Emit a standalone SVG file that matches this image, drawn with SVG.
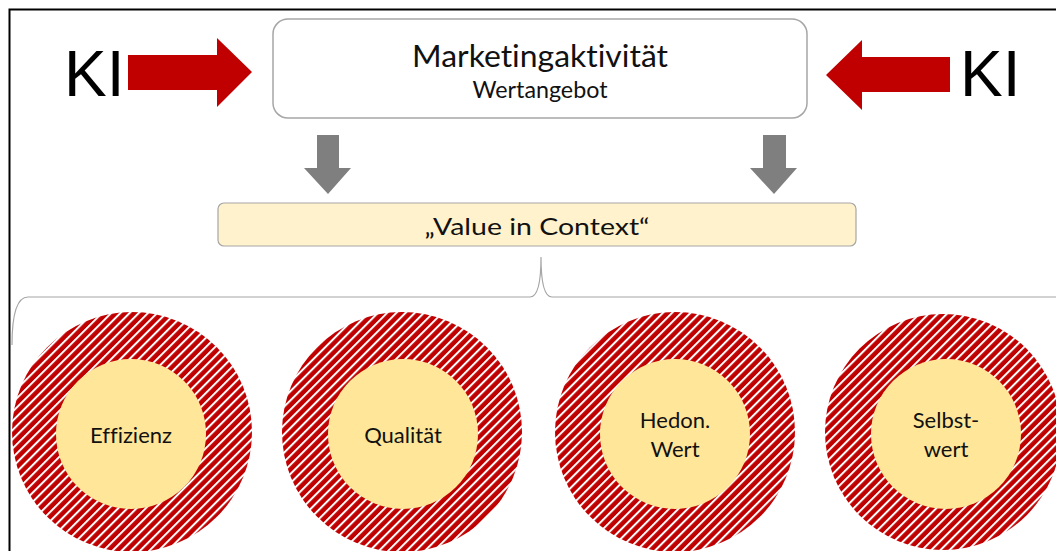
<svg xmlns="http://www.w3.org/2000/svg" width="1056" height="551" viewBox="0 0 1056 551">
  <defs>
    <pattern id="stripes" patternUnits="userSpaceOnUse" width="6.5" height="6.5" patternTransform="rotate(45)">
      <rect width="6.5" height="6.5" fill="#c00000"/>
      <rect x="0" y="0" width="2" height="6.5" fill="#ffffff"/>
    </pattern>
    <style>
      .box { fill: #ffffff; stroke: #a6a6a6; stroke-width: 1.5; }
      .ctx { fill: #fff2cc; stroke: #a6a6a6; stroke-width: 1.2; }
      .ki { font-family: "Liberation Sans", Arial, sans-serif; font-size: 64px; fill: #000; }
      .lbl { font-family: Lato, "Open Sans", sans-serif; fill: #111; text-anchor: middle; font-variant-ligatures: none; }
      .c { font-size: 22px; }
      .red { fill: #c00000; }
      .gray { fill: #7f7f7f; }
      .outer { fill: url(#stripes); }
      .inner { fill: #ffe699; }
      .brace { fill: none; stroke: #a6a6a6; stroke-width: 1.2; }
    </style>
  </defs>
  <rect width="1056" height="551" fill="#ffffff"/>
  <rect x="9.5" y="9.5" width="1060" height="560" fill="none" stroke="#000" stroke-width="2"/>

  <g id="ki-left">
    <text class="ki" x="64" y="96">KI</text>
  </g>
  <g id="ki-right">
    <text class="ki" x="960" y="96">KI</text>
  </g>

  <g id="marketing">
    <rect class="box" x="273" y="19" width="534" height="99" rx="15"/>
    <text class="lbl" x="540" y="67" font-size="31" textLength="256" lengthAdjust="spacingAndGlyphs">Marketingaktivität</text>
    <text class="lbl" x="540" y="98" font-size="23" textLength="135" lengthAdjust="spacingAndGlyphs">Wertangebot</text>
  </g>

  <g id="context">
    <rect class="ctx" x="218" y="203" width="638" height="43" rx="6"/>
    <text class="lbl" x="537" y="235" font-size="24" textLength="225" lengthAdjust="spacingAndGlyphs">„Value in Context“</text>
  </g>

  <g id="connectors">
    <polygon class="red" points="128,55 217,55 217,38 252,72 217,107 217,90 128,90"/>
    <polygon class="red" points="950,57 862,57 862,40 826,75 862,110 862,92 950,92"/>
    <polygon class="gray" points="317,135 339,135 339,168 351,168 328,194 304,168 317,168"/>
    <polygon class="gray" points="763,135 786,135 786,168 797,168 774,194 750,168 763,168"/>
    <path class="brace" d="M 12 345 Q 12 297 28 297 L 530 297 Q 541 297 541 257 Q 541 297 552 297 L 1060 297"/>
  </g>

  <g id="effizienz">
    <circle class="outer" cx="132" cy="432" r="120"/>
    <circle class="inner" cx="131" cy="434" r="75"/>
    <text class="lbl c" x="131" y="443">Effizienz</text>
  </g>
  <g id="qualitaet">
    <circle class="outer" cx="402" cy="432" r="120"/>
    <circle class="inner" cx="403" cy="434" r="75"/>
    <text class="lbl c" x="403" y="443">Qualität</text>
  </g>
  <g id="hedon">
    <circle class="outer" cx="675" cy="432" r="120"/>
    <circle class="inner" cx="675" cy="434" r="75"/>
    <text class="lbl c" x="675" y="428">Hedon.</text>
    <text class="lbl c" x="675" y="457">Wert</text>
  </g>
  <g id="selbstwert">
    <circle class="outer" cx="943" cy="432" r="118"/>
    <circle class="inner" cx="946" cy="434" r="75"/>
    <text class="lbl c" x="946" y="428">Selbst-</text>
    <text class="lbl c" x="946" y="457">wert</text>
  </g>
</svg>
